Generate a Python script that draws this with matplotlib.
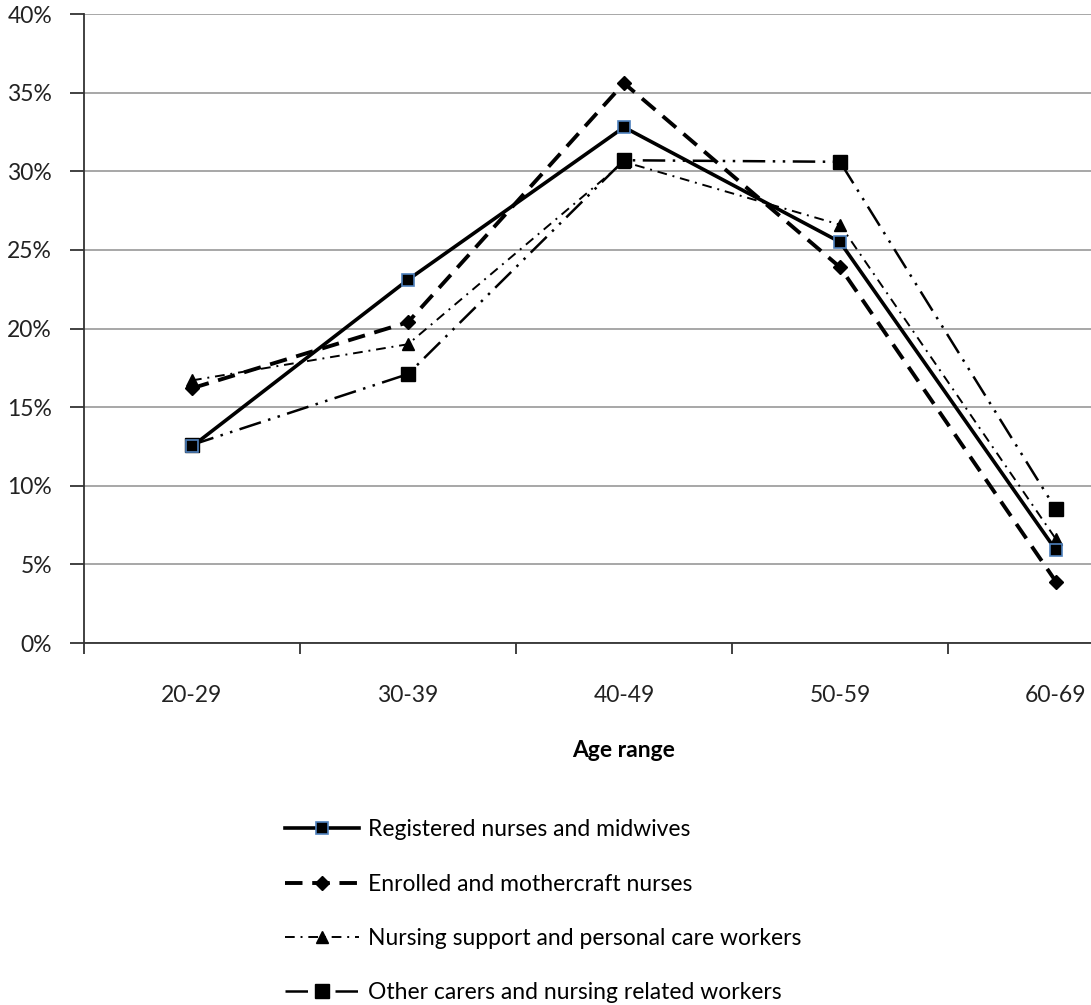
import matplotlib
matplotlib.use("Agg")
import matplotlib.pyplot as plt
from matplotlib.ticker import PercentFormatter

plt.rcParams['font.family'] = ['Lato', 'DejaVu Sans']

# Age ranges and share of workforce (%) per occupation group
age_ranges = ["20-29", "30-39", "40-49", "50-59", "60-69"]
registered = [12.5, 23.1, 32.8, 25.5, 5.9]
enrolled = [16.2, 20.4, 35.6, 23.9, 3.9]
support = [16.7, 19.0, 30.6, 26.6, 6.6]
other = [12.6, 17.1, 30.7, 30.6, 8.5]

series_names = ["Registered nurses and midwives",
                "Enrolled and mothercraft nurses",
                "Nursing support and personal care workers",
                "Other carers and nursing related workers"]

W, H = 1091, 1005
fig = plt.figure(figsize=(W / 100, H / 100), dpi=100)
# axes runs past the right edge, like the cropped original
ax = fig.add_axes([84 / W, (H - 643) / H, 1080 / W, 629 / H])

x = range(len(age_ranges))
FS = 16.5

l1, = ax.plot(x, registered, color='black', lw=2.6, marker='s', ms=9,
              mfc='black', mec='#4f81bd', mew=1.2, zorder=5)
l2, = ax.plot(x, enrolled, color='black', lw=2.8, dashes=(4.5, 2.5),
              marker='D', ms=7, mfc='black', mec='black', zorder=4)
l3, = ax.plot(x, support, color='black', lw=1.4, dashes=(5, 3, 1, 3),
              marker='^', ms=9, mfc='black', mec='black', zorder=3)
l4, = ax.plot(x, other, color='black', lw=1.8, dashes=(9, 3, 1, 3, 1, 3),
              marker='s', ms=9.5, mfc='black', mec='black', zorder=3)

ax.set_xlim(-0.5, 4.5)
ax.set_ylim(0, 40)
ax.yaxis.set_major_formatter(PercentFormatter(decimals=0))
ax.set_yticks(range(0, 41, 5))
ax.yaxis.grid(True, color='#a0a0a0', lw=1.3)
ax.set_axisbelow(True)

ax.set_xticks(list(x))
ax.set_xticklabels(age_ranges)
ax.set_xticks([i - 0.5 for i in x], minor=True)
ax.tick_params(axis='x', which='major', length=0, pad=30, labelsize=FS, labelcolor='#222222')
ax.tick_params(axis='x', which='minor', length=8, width=1.3, direction='out', color='#333333')
ax.tick_params(axis='y', length=10, width=1.3, labelsize=FS, pad=13,
               labelcolor='#222222', color='#333333')

for s in ['top', 'right']:
    ax.spines[s].set_visible(False)
for s in ['left', 'bottom']:
    ax.spines[s].set_color('#333333')
    ax.spines[s].set_linewidth(1.3)

ax.set_xlabel("Age range", fontsize=FS, fontweight='bold', labelpad=25)

fig.legend([l1, l2, l3, l4], series_names, loc='upper left',
           bbox_to_anchor=(274 / W, 1 - 808 / H), frameon=False,
           fontsize=FS, handlelength=3.2, handletextpad=0.4,
           labelspacing=1.45, borderpad=0)

fig.savefig("out.png", dpi=100)
